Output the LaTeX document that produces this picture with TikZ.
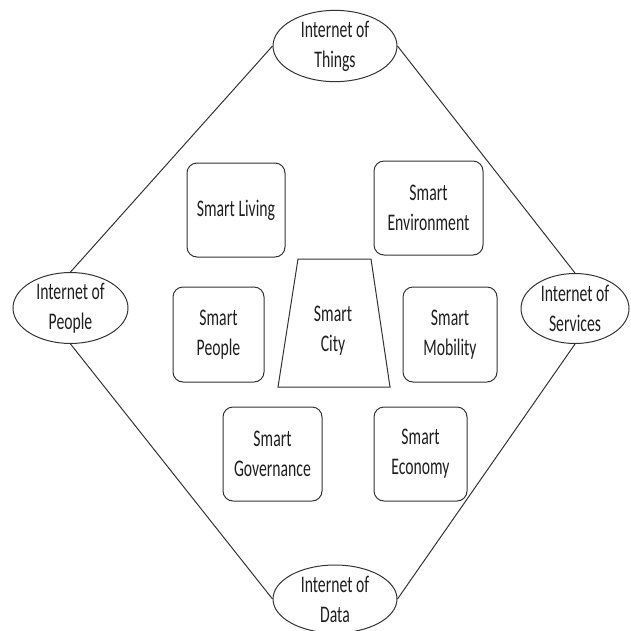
\documentclass[tikz,border=0pt]{standalone}
\usepackage{fontspec}
\setmainfont{Carlito}[FakeStretch=0.66]
\usetikzlibrary{shapes.geometric}
\begin{document}
\begin{tikzpicture}[x=1pt,y=-1pt,
  every node/.style={font=\fontsize{23.8}{30}\selectfont, text=black!88, align=center},
  outline/.style={draw=black!80, line width=1pt},
  iot/.style={outline, ellipse, inner sep=0pt},
  pillar/.style={outline, rounded corners=10pt, inner sep=0pt},
  link/.style={draw=black!80, line width=1pt}]
\useasboundingbox (0,0) rectangle (631,630);

% the four "Internet of ..." ellipses
\node[iot, minimum width=124pt, minimum height=68pt] (iothings)   at (335,46)    {Internet of\\Things};
\node[iot, minimum width=115pt, minimum height=70pt] (iopeople)   at (70.5,308)  {Internet of\\People};
\node[iot, minimum width=108pt, minimum height=70pt] (ioservices) at (575,308.5) {Internet of\\Services};
\node[iot, minimum width=124pt, minimum height=68pt] (iodata)     at (335,599)   {Internet of\\Data};

% diamond joining them
\draw[link] (iothings.west) -- (iopeople.north);
\draw[link] (iothings.east) -- (ioservices.north);
\draw[link] (iopeople.south) -- (iodata.west);
\draw[link] (ioservices.south) -- (iodata.east);

% the six smart pillars
\node[pillar, minimum width=98pt,  minimum height=94pt] (living)    at (236,210)     {Smart Living};
\node[pillar, minimum width=109pt, minimum height=94pt] (environ)   at (428.5,208)   {Smart\\Environment};
\node[pillar, minimum width=91pt,  minimum height=95pt] (people)    at (218.5,334.5) {Smart\\People};
\node[pillar, minimum width=94pt,  minimum height=95pt] (mobility)  at (450,334.5)   {Smart\\Mobility};
\node[pillar, minimum width=99pt,  minimum height=94pt] (governance) at (272.5,454)  {Smart\\Governance};
\node[pillar, minimum width=93pt,  minimum height=94pt] (economy)   at (420.5,454)   {Smart\\Economy};

% the central trapezium
\coordinate (cityTL) at (298,259);
\coordinate (cityTR) at (371,259);
\coordinate (cityBR) at (390,387);
\coordinate (cityBL) at (278,387);
\draw[outline, line join=miter] (cityTL) -- (cityTR) -- (cityBR) -- (cityBL) -- cycle;
\node (city) at (333,331) {Smart\\City};
\end{tikzpicture}
\end{document}
